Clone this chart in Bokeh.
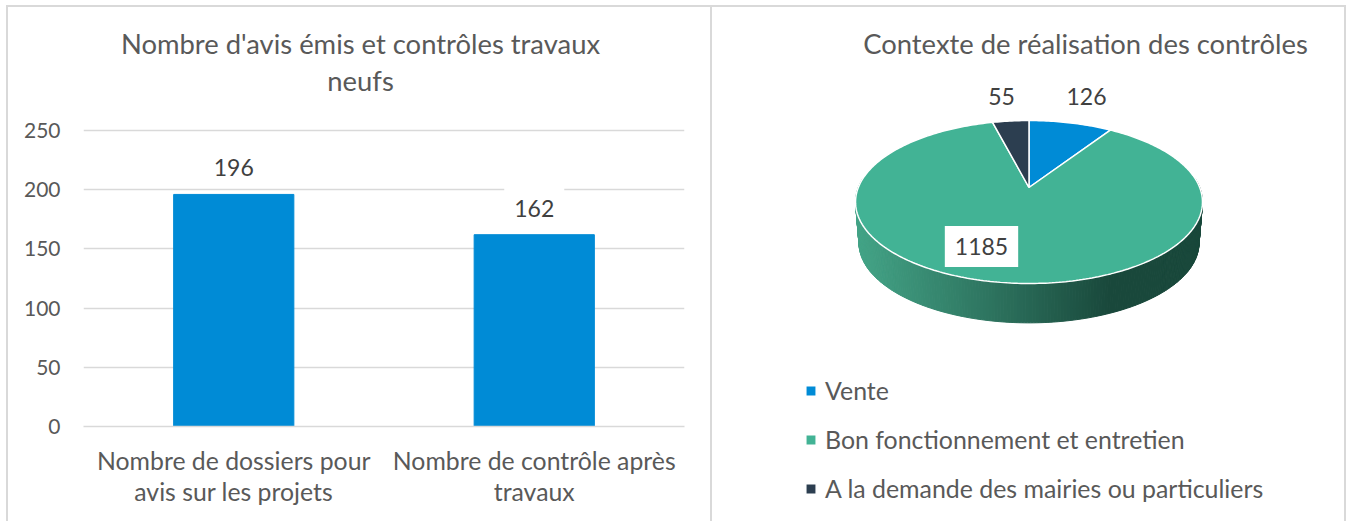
from math import sin, cos, pi
from bokeh.plotting import figure
from bokeh.layouts import row
from bokeh.models import Range1d, Label, Legend, LegendItem
from bokeh.embed import file_html
from bokeh.resources import INLINE

bar_title = ["Nombre d'avis émis et contrôles travaux", "neufs"]
bar_categories = ["Nombre de dossiers pour\navis sur les projets", "Nombre de contrôle après\ntravaux"]
bar_values = [196, 162]
pie_title = "Contexte de réalisation des contrôles"
pie_categories = ["Vente", "Bon fonctionnement et entretien", "A la demande des mairies ou particuliers"]
pie_values = [126, 1185, 55]
pie_colors = ["#008bd6", "#42b395", "#2c3e50"]

FONT = "Lato"
GREY = "#595959"
DARK = "#404040"
RULE = "#d9d9d9"

def frame_css(left, top, right):
    return (":host::after{content:'';position:absolute;z-index:5;pointer-events:none;box-sizing:border-box;"
            f"left:{left}px;top:{top}px;right:{right}px;bottom:-20px;border:2px solid {RULE};}}")

# ---------- left panel: the frame runs up to y=5 so that the title fits inside it ----------
UNIT = 250 / 296           # value units per pixel
p1 = figure(width=712, height=521, x_range=bar_categories, y_range=Range1d(0, (426 - 5) * UNIT),
            output_backend="svg", toolbar_location=None,
            min_border_left=83, min_border_right=28, min_border_top=5, min_border_bottom=95,
            outline_line_color=None, border_fill_color="white", tools="", frame_align=False)
p1.frame_width = 601
p1.frame_height = 421
for txt, py in zip(bar_title, [43, 80]):
    p1.add_layout(Label(x=(360 - 83) / 601 * 2, y=(426 - py) * UNIT, text=txt, text_align="center",
                        text_baseline="middle", text_font=FONT, text_font_size="27.4px", text_color=GREY))
p1.vbar(x=bar_categories, top=bar_values, width=0.4, color=pie_colors[0])
p1.yaxis.ticker = [0, 50, 100, 150, 200, 250]
p1.ygrid.grid_line_color = RULE
p1.ygrid.grid_line_width = 1.5
p1.xgrid.grid_line_color = None
p1.yaxis.axis_line_color = None
p1.yaxis.major_tick_line_color = None
p1.yaxis.minor_tick_line_color = None
p1.yaxis.major_label_standoff = 17
p1.xaxis.axis_line_color = RULE
p1.xaxis.axis_line_width = 1.5
p1.xaxis.major_tick_line_color = None
p1.xaxis.major_label_standoff = 13
p1.xaxis.major_label_text_line_height = 1.1
for ax, size in ((p1.xaxis, "24.8px"), (p1.yaxis, "21px")):
    ax.major_label_text_font = FONT
    ax.major_label_text_font_size = size
    ax.major_label_text_color = GREY
p1.xaxis.major_label_orientation = "horizontal"

for i, (v, box) in enumerate(zip(bar_values, [False, True])):
    p1.add_layout(Label(x=i + 0.5, y=v, text=str(v), y_offset=8 if box else 18, text_align="center",
                        text_baseline="bottom", text_font=FONT, text_font_size="23px", text_color=DARK,
                        background_fill_color="white" if box else None,
                        padding=(10, 10, 14, 10) if box else 0))
p1.stylesheets = [frame_css(6, 5, 0)]

# ---------- right panel (data space = page pixels, wedges come from pie_values) ----------
p2 = figure(width=640, height=521, x_range=Range1d(712, 1352), y_range=Range1d(521, 0),
            output_backend="svg", toolbar_location=None, tools="",
            x_axis_location=None, y_axis_location=None,
            min_border_left=0, min_border_right=0, min_border_top=0, min_border_bottom=0,
            outline_line_color=None, border_fill_color="white", frame_align=False)
p2.frame_width = 640
p2.frame_height = 521
p2.grid.visible = False
p2.add_layout(Label(x=1085, y=43, text=pie_title, text_align="center", text_baseline="middle",
                    text_font=FONT, text_font_size="27.4px", text_color=GREY))

AX, AY = 1028.5, 187.0     # apex
A, B, K = 170.7, 78.9, 0.178
EY = 202.0                 # visual centre of the rim ellipse
DEPTH, SHRINK = 41.0, 0.98

def rim(theta):
    x, y = sin(theta), cos(theta)
    d = 1 + K * y
    return AX + A * x / d, AY - B * y / d

def low(pt):
    return AX + SHRINK * (pt[0] - AX), EY + SHRINK * (pt[1] - EY) + DEPTH

def mix(a, b, t):
    c = [round(a[i] + (b[i] - a[i]) * t) for i in range(3)]
    return "#%02x%02x%02x" % tuple(c)

# side wall
N = 220
L, R = (67, 163, 134), (25, 72, 59)
for i in range(N):
    t0 = pi / 2 - 0.12 + (pi + 0.24) * i / N
    t1_ = pi / 2 - 0.12 + (pi + 0.24) * (i + 1) / N
    a, b = rim(t0), rim(t1_)
    c, d = low(b), low(a)
    f = max(0.0, min(1.0, ((a[0] + b[0]) / 2 - 858) / (1110 - 858)))
    col = mix(L, R, f)
    p2.patch([a[0], b[0], c[0], d[0]], [a[1], b[1], c[1], d[1]], fill_color=col, line_color=col, line_width=1)

# top wedges
total = sum(pie_values)
start = 0.0
items = []
for name, val, col in zip(pie_categories, pie_values, pie_colors):
    end = start + val / total * 2 * pi
    n = max(4, int((end - start) * 60))
    pts = [rim(start + (end - start) * j / n) for j in range(n + 1)]
    xs = [AX] + [q[0] for q in pts]
    ys = [AY] + [q[1] for q in pts]
    r = p2.patch(xs, ys, fill_color=col, line_color="white", line_width=1.5)
    items.append(LegendItem(label=name, renderers=[r]))
    start = end

label_pos = [(1086, 96), (981, 246), (1001, 96)]
for v, (x, y) in zip(pie_values, label_pos):
    big = v > 1000
    p2.add_layout(Label(x=x, y=y, text=str(v), text_align="center", text_baseline="middle",
                        text_font=FONT, text_font_size="23px", text_color=DARK,
                        background_fill_color="white" if big else None,
                        padding=(10, 10, 12, 12) if big else 0))

leg = Legend(items=items, location=(92, 18), orientation="vertical", border_line_color=None,
             background_fill_alpha=0, glyph_width=13, glyph_height=13, label_standoff=8,
             spacing=19, label_text_font=FONT, label_text_font_size="24.9px", label_text_color=GREY,
             margin=0, padding=0, label_height=29)
p2.add_layout(leg, "center")
p2.stylesheets = [frame_css(-2, 5, 6)]

page = row(p1, p2, spacing=0)
page.styles = {"position": "absolute", "left": "0px", "top": "0px"}
open("out.html", "w").write(file_html(page, INLINE))
